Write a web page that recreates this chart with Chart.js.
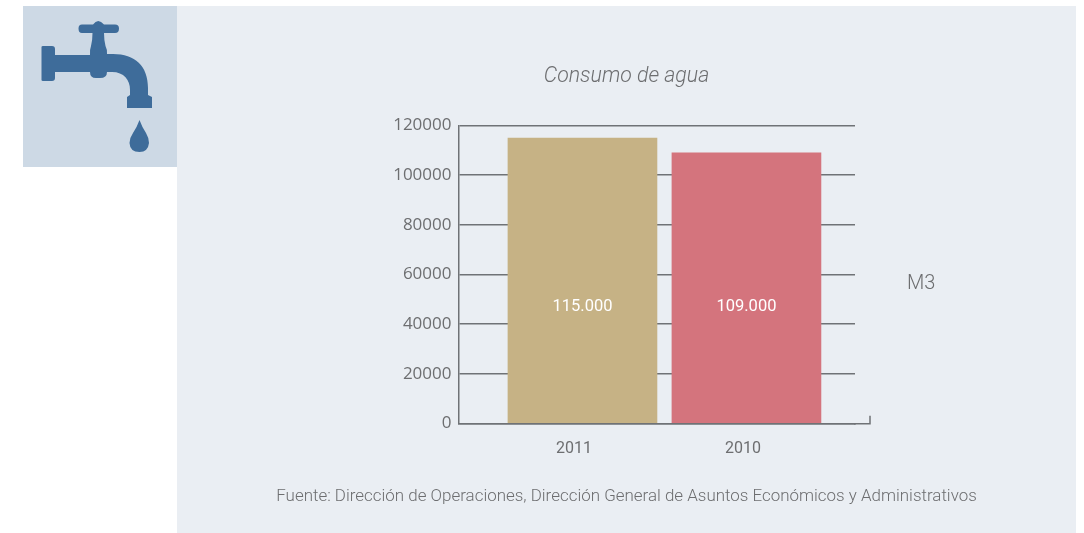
<!DOCTYPE html>
<html><head><meta charset="utf-8">
<script src="https://cdn.jsdelivr.net/npm/chart.js@4/dist/chart.umd.min.js"></script>
<style>
html,body{margin:0;padding:0;background:#fff;width:1084px;height:533px;overflow:hidden}
#panel{position:absolute;left:177px;top:6px;width:899px;height:527px;background:#eaeef3}
#iconbox{position:absolute;left:23px;top:6px;width:154px;height:161px;background:#cdd9e5}
#icon{position:absolute;left:0;top:0}
#wrap{position:absolute;left:177px;top:6px;width:899px;height:527px}
#unit{position:absolute;left:907px;top:270px;font:300 20px Roboto,sans-serif;color:#6d6e70}
</style></head><body>
<div id="panel"></div><div id="iconbox"></div>
<svg id="icon" width="200" height="180" viewBox="0 0 200 180">
<g fill="#3e6c9a">
<path d="M41.5 47 Q41.5 46 43 46 L52 46 Q55 46 55 49 L55 55 L90 55 Q89.500 50 91 46 Q92.500 40 92.500 33 L82 33 Q78.500 33 78.500 28.500 Q78.500 24.500 82 24.500 L93 24.500 Q98 17.500 104 24.500 L115 24.500 Q119 24.500 119 28.500 Q119 33 115 33 L104 33 Q104 40 105.500 46 Q107.500 50 107 54 L113 54 C135 54 148 66 148 88 L148 95 L152 97 L152 108 L127 108 L127 97 L130 95 L130 90 C130 80 124 72 112 72 L107 72 Q107 78 100 78 L96 78 Q90 78 90 72 L55 72 L55 78 Q55 81 52 81 L43 81 Q41.500 81 41.500 80 Z"/>
<path d="M139.500 120 Q142 127 146 133 Q149 138 149 143 Q148 152 139.500 152 Q130 152 129.500 143 Q129.500 138 133 133 Q137 127 139.500 120 Z"/>
</g></svg>
<div id="wrap"><canvas id="c" width="899" height="527"></canvas></div>
<div id="unit">M3</div>
<script>
const categories = ['2011', '2010'];
const values = [115000, 109000];
const valueLabels = ['115.000', '109.000'];
const barColors = ['#c6b285', '#d4747d'];
const yTicks = [0, 20000, 40000, 60000, 80000, 100000, 120000];
const titleText = 'Consumo de agua';
const sourceText = 'Fuente: Dirección de Operaciones, Dirección General de Asuntos Económicos y Administrativos';

const LINE = '#6f7276', TEXT = '#6d6e70';
const tickSlots = [-0.052, 0.979];

const extras = {
  id: 'extras',
  afterDatasetsDraw(chart) {
    const {ctx, chartArea: a, scales: {x, y}} = chart;
    const by = Math.round(x.top - 0.75) + 0.75;
    ctx.save();
    ctx.strokeStyle = LINE; ctx.lineWidth = 1.5;
    ctx.beginPath();
    ctx.moveTo(a.right - 1, by); ctx.lineTo(a.right + 15.75, by);
    ctx.moveTo(a.right + 15, by); ctx.lineTo(a.right + 15, by - 8);
    ctx.stroke();
    ctx.fillStyle = '#fff';
    ctx.font = '400 16.500px Roboto, sans-serif';
    ctx.textAlign = 'center'; ctx.textBaseline = 'middle';
    valueLabels.forEach((t, i) => ctx.fillText(t, x.getPixelForValue(i), y.getPixelForValue(47000)));
    ctx.restore();
  }
};

new Chart(document.getElementById('c'), {
  type: 'bar',
  data: {
    labels: categories,
    datasets: [{
      data: values.map((v, i) => ({x: i, y: v})),
      backgroundColor: barColors,
      barThickness: 149,
      borderWidth: 0,
      xAxisID: 'x',
      yAxisID: 'y'
    }]
  },
  plugins: [extras],
  options: {
    responsive: false,
    animation: false,
    devicePixelRatio: 1,
    plugins: {
      legend: {display: false},
      tooltip: {enabled: false},
      title: {display: true, text: titleText, color: TEXT,
        font: {family: 'Roboto', size: 21.3, style: 'italic', weight: 300},
        padding: {top: 58, bottom: 36}},
      subtitle: {display: true, position: 'bottom', text: sourceText, color: TEXT,
        font: {family: 'Roboto', size: 16.95, weight: 300},
        padding: {top: 20, bottom: 26}}
    },
    scales: {
      x: {
        type: 'linear', min: -0.756, max: 1.662, offset: false,
        grid: {display: false, offset: false},
        border: {color: LINE, width: 1.5},
        afterBuildTicks: ax => { ax.ticks = tickSlots.map(value => ({value})); },
        ticks: {
          autoSkip: false, maxRotation: 0, minRotation: 0, padding: 8,
          color: TEXT, font: {family: 'Roboto', size: 16},
          callback: (v, i) => categories[i]
        }
      },
      y: {
        min: 0, max: 120000,
        afterFit: ax => { ax.width = 281.5; },
        afterBuildTicks: ax => { ax.ticks = yTicks.map(value => ({value})); },
        grid: {color: LINE, lineWidth: 1.5, drawTicks: false},
        border: {color: LINE, width: 1.5},
        ticks: {padding: 7, color: TEXT, font: {family: 'Open Sans', size: 17},
          callback: v => String(v)}
      },
      spacer: {
        type: 'linear', position: 'right', display: true,
        afterFit: ax => { ax.width = 221; },
        grid: {display: false},
        border: {display: false},
        ticks: {display: false}
      }
    }
  }
});
</script>
</body></html>
